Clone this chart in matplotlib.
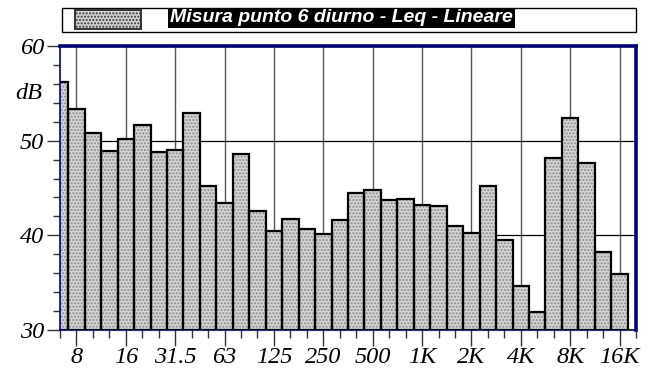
import matplotlib
matplotlib.use('Agg')
import matplotlib.pyplot as plt
import matplotlib.ticker as ticker
from matplotlib.patches import Rectangle
import numpy as np

# 1/3 octave bands, 6.3 Hz .. 16 kHz
bands = ['6.3', '8', '10', '12.5', '16', '20', '25', '31.5', '40', '50', '63', '80',
         '100', '125', '160', '200', '250', '315', '400', '500', '630', '800',
         '1K', '1.25K', '1.6K', '2K', '2.5K', '3.15K', '4K', '5K', '6.3K', '8K',
         '10K', '12.5K', '16K']
leq = [56.2, 53.3, 50.8, 48.9, 50.2, 51.7, 48.8, 49.0, 52.9, 45.2, 43.4, 48.6,
       42.6, 40.5, 41.7, 40.7, 40.1, 41.6, 44.5, 44.8, 43.7, 43.8, 43.2, 43.1,
       41.0, 40.2, 45.2, 39.5, 34.6, 31.9, 48.2, 52.4, 47.6, 38.2, 35.9]
shown_labels = ['8', '16', '31.5', '63', '125', '250', '500', '1K', '2K', '4K', '8K', '16K']
series_name = 'Misura punto 6 diurno - Leq - Lineare'

navy = '#000080'
fill = '#d4d4d4'

fig = plt.figure(figsize=(6.48, 3.74), dpi=100)
ax = fig.add_axes([60 / 648, 44 / 374, 576 / 648, 284 / 374])

index = np.arange(len(bands))
bottom = 30
heights = np.array(leq) - bottom
ax.bar(index, heights, width=1.0, bottom=bottom, color=fill, hatch='.....',
       edgecolor='#8c8c8c', linewidth=0, zorder=2)
ax.bar(index, heights, width=1.0, bottom=bottom, fill=False,
       edgecolor='black', linewidth=1.6, zorder=3)

ax.set_xlim(0, len(bands))
ax.set_ylim(30, 60)

major_idx = [bands.index(b) for b in shown_labels]
ax.xaxis.set_major_locator(ticker.FixedLocator(major_idx))
ax.xaxis.set_major_formatter(ticker.FixedFormatter(shown_labels))
ax.xaxis.set_minor_locator(ticker.FixedLocator(np.arange(len(bands) + 1)))
ax.yaxis.set_major_locator(ticker.MultipleLocator(10))
ax.yaxis.set_minor_locator(ticker.MultipleLocator(2))

ax.tick_params(axis='x', which='major', direction='out', length=11.5, width=1,
               color='#333333', pad=1)
ax.tick_params(axis='x', which='minor', direction='out', length=5.8, width=1,
               color='#333333')
ax.tick_params(axis='y', which='major', direction='out', length=9.4, width=1,
               color='#333333', pad=2)
ax.tick_params(axis='y', which='minor', direction='out', length=4.8, width=1,
               color='#333333')

for lab in ax.get_xticklabels() + ax.get_yticklabels():
    lab.set_fontfamily('Liberation Serif')
    lab.set_fontstyle('italic')
    lab.set_fontsize(17.5)

ax.annotate('dB', xy=(0, 55), xycoords=('axes fraction', 'data'),
            xytext=(-12.5, 0), textcoords='offset points', ha='right', va='center',
            fontfamily='Liberation Serif', fontstyle='italic', fontsize=17.5)

ax.grid(True, axis='x', which='major', color='#555555', linewidth=1, zorder=1)
ax.grid(True, axis='y', which='major', color='black', linewidth=0.9, zorder=1)
ax.set_axisbelow(True)

for side in ['top', 'right']:
    ax.spines[side].set_color(navy)
    ax.spines[side].set_linewidth(2.6)
for side in ['left', 'bottom']:
    ax.spines[side].set_color(navy)
    ax.spines[side].set_linewidth(1.2)

# legend box on top
fig.patches.append(Rectangle((62 / 648, 1 - 32 / 374), 574 / 648, 24 / 374,
                             transform=fig.transFigure, facecolor='white',
                             edgecolor='black', linewidth=1))
fig.patches.append(Rectangle((75 / 648, 1 - 29 / 374), 66 / 648, 19 / 374,
                             transform=fig.transFigure, facecolor=fill, hatch='.....',
                             edgecolor='#333333', linewidth=1.4))
fig.text(170 / 648, 1 - 18 / 374, series_name, ha='left', va='center',
         color='white', fontfamily='Liberation Sans', fontweight='bold',
         fontstyle='italic', fontsize=14,
         bbox=dict(boxstyle='square,pad=0.1', facecolor='black', edgecolor='none'))

plt.savefig('out.png', dpi=100)
plt.close()
